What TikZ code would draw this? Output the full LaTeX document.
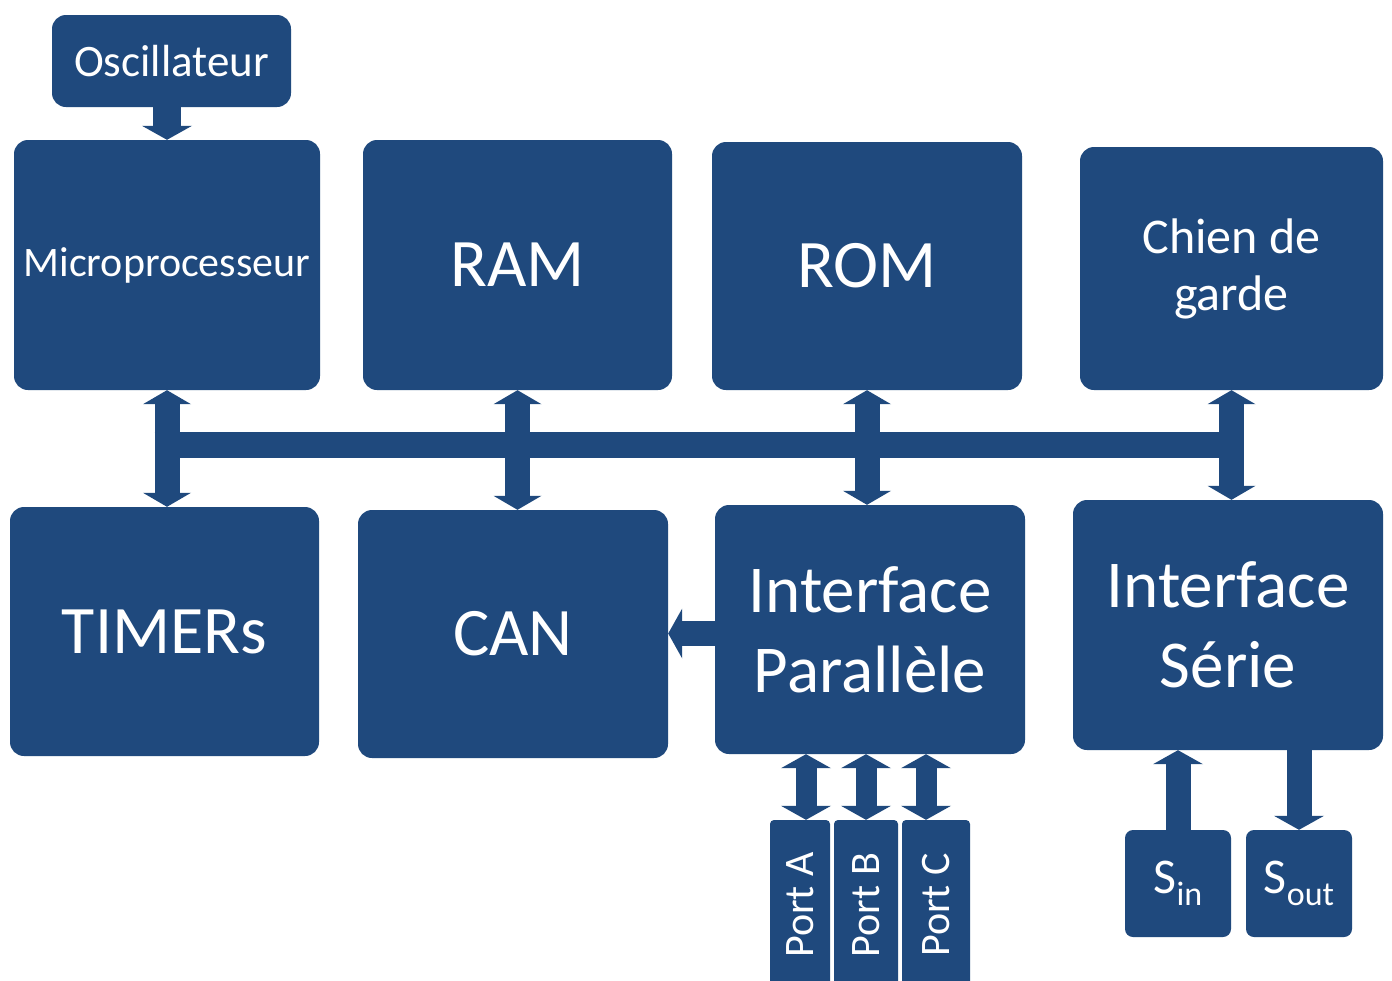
\documentclass[tikz,border=0pt]{standalone}
\usepackage{fontspec}
\setmainfont{Carlito}
\usetikzlibrary{arrows.meta}
\definecolor{boxblue}{HTML}{1F497D}
\newcommand\fs[1]{\fontsize{#1}{#1}\selectfont}
\tikzset{
  blk/.style={fill=boxblue, draw=none, rounded corners=14pt, text=white,
    inner sep=0pt, align=center},
  portbox/.style={blk, rounded corners=4pt, minimum height=170pt},
  link/.style={draw=boxblue, line width=25pt},
  dbl/.style={link, {Triangle[width=48pt,length=14pt,line width=0pt]}-{Triangle[width=48pt,length=14pt,line width=0pt]}},
  dblport/.style={draw=boxblue, line width=21pt, {Triangle[width=50pt,length=14pt,line width=0pt]}-{Triangle[width=50pt,length=14pt,line width=0pt]}},
  single/.style={link, -{Triangle[width=50pt,length=14pt,line width=0pt]}},
}
\begin{document}
\begin{tikzpicture}[x=1pt, y=1pt]
  \useasboundingbox (0,0) rectangle (1392,-980);
  \clip (0,0) rectangle (1392,-980);
  \fill[white] (0,0) rectangle (1392,-980);

  % top row
  \node[blk, minimum width=239pt, minimum height=92pt, font=\fs{45}] (osc) at (171.5,-61) {Oscillateur};
  \node[blk, minimum width=306pt, minimum height=250pt, font=\fs{42}] (micro) at (167,-265) {Microprocesseur};
  \node[blk, minimum width=309pt, minimum height=250pt, font=\fs{68}] (ram) at (517.5,-265) {RAM};
  \node[blk, minimum width=310pt, minimum height=248pt, font=\fs{68}] (rom) at (867,-266) {ROM};
  \node[blk, minimum width=303pt, minimum height=243pt, font={\fontsize{50}{57}\selectfont}] (chien) at (1231.5,-268.5) {Chien de\\garde};

  % bottom row
  \node[blk, minimum width=309pt, minimum height=249pt, font=\fs{68}] (timers) at (164.5,-631.5) {TIMERs};
  \node[blk, minimum width=310pt, minimum height=248pt, font=\fs{68}] (can) at (513,-634) {CAN};
  \node[blk, minimum width=310pt, minimum height=249pt, font={\fontsize{67}{80}\selectfont}] (ip) at (870,-629.5) {Interface\\Parallèle};
  \node[blk, minimum width=310pt, minimum height=250pt, font={\fontsize{67}{80}\selectfont}] (is) at (1228,-625) {Interface\\Série};

  % ports
  \node[portbox, minimum width=60pt, font=\fs{42}] (pa) at (800,-905) {\rotatebox{90}{Port A}};
  \node[portbox, minimum width=64pt, font=\fs{42}] (pb) at (866,-905) {\rotatebox{90}{Port B}};
  \node[portbox, minimum width=68pt, font=\fs{42}] (pc) at (936,-905) {\rotatebox{90}{Port C}};

  % serial lines
  \node[blk, rounded corners=8pt, minimum width=106pt, minimum height=107pt, font=\fs{50}] (sin) at (1178,-883.5)
    {S\raisebox{-0.25em}{\fontsize{34}{34}\selectfont in}};
  \node[blk, rounded corners=8pt, minimum width=106pt, minimum height=107pt, font=\fs{50}] (sout) at (1299,-883.5)
    {S\raisebox{-0.25em}{\fontsize{34}{34}\selectfont out}};

  % clock
  \draw[single, line width=28pt] (osc.south -| micro.north) -- (micro.north);

  % system bus
  \coordinate (busL) at (micro.south |- 0,-445);
  \coordinate (busR) at (chien.south |- 0,-445);
  \draw[link, line width=26pt] ([xshift=-12.5pt]busL) -- ([xshift=12.5pt]busR);
  \draw[dbl] (micro.south) -- (micro.south |- timers.north);
  \draw[dbl] (ram.south) -- (ram.south |- can.north);
  \draw[dbl] (rom.south) -- (rom.south |- ip.north);
  \draw[dbl] (chien.south) -- (chien.south |- is.north);

  % parallel interface to converter
  \draw[single] ([yshift=-4pt]ip.west) -- ([yshift=-4pt]ip.west -| can.east);

  % parallel ports
  \draw[dblport] ([xshift=6pt]pa.north) -- ([xshift=6pt]pa.north |- ip.south);
  \draw[dblport] (pb.north) -- (pb.north |- ip.south);
  \draw[dblport] ([xshift=-10pt]pc.north) -- ([xshift=-10pt]pc.north |- ip.south);

  % serial interface lines
  \draw[single] (sin.north) -- (sin.north |- is.south);
  \draw[single] (is.south -| sout.north) -- (sout.north);
\end{tikzpicture}
\end{document}
